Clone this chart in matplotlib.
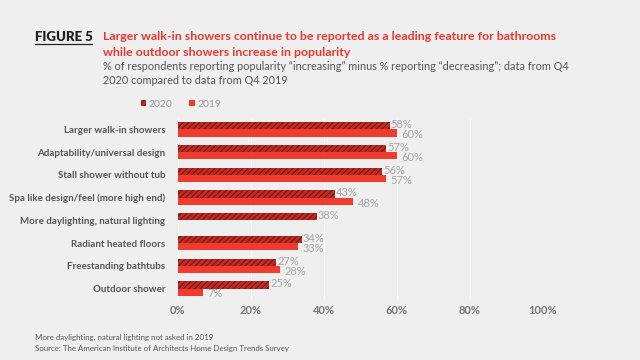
import matplotlib
matplotlib.use("Agg")
import matplotlib.pyplot as plt
import numpy as np

categories = ["Larger walk-in showers", "Adaptability/universal design", "Stall shower without tub",
              "Spa like design/feel (more high end)", "More daylighting, natural lighting",
              "Radiant heated floors", "Freestanding bathtubs", "Outdoor shower"]
v2020 = [58, 57, 56, 43, 38, 34, 27, 25]
v2019 = [60, 60, 57, 48, None, 33, 28, 7]
xticks = [0, 20, 40, 60, 80, 100]

bg = "#efefef"
plt.rcParams['hatch.linewidth'] = 0.7
plt.rcParams['font.family'] = ['Lato', 'DejaVu Sans']

fig = plt.figure(figsize=(6.4, 3.6), dpi=100, facecolor=bg)
ax = fig.add_axes([0.278, 0.167, 0.570, 0.505], facecolor=bg)

y = np.arange(len(categories))
h = 0.32
ax.barh(y - h/2, v2020, height=h, facecolor="#bf2b25", edgecolor="#6e1210",
        hatch="//////", linewidth=0, label="2020", zorder=2)
y19 = [yy for yy, v in zip(y, v2019) if v is not None]
v19 = [v for v in v2019 if v is not None]
ax.barh(np.array(y19) + h/2, v19, height=h, color="#f03c2e", linewidth=0, label="2019", zorder=2)

lc = "#a6a6a6"
for yy, v in zip(y, v2020):
    ax.text(v + 0.3, yy - h/2 - 0.05, f"{v}%", va="center", ha="left", fontsize=8, color=lc, zorder=3)
for yy, v in zip(y19, v19):
    ax.text(v + 1.2, yy + h/2 + 0.08, f"{v}%", va="center", ha="left", fontsize=8, color=lc, zorder=3)

ax.set_xlim(0, 100)
ax.set_ylim(len(categories) - 0.5, -0.5)
ax.set_yticks(y)
ax.set_yticklabels(categories, fontsize=7.0, fontweight="bold", color="#555555")
ax.set_xticks(xticks)
ax.set_xticklabels([f"{t}%" for t in xticks], fontsize=8, fontweight="bold", color="#777777")
ax.tick_params(axis="y", length=0, pad=9)
ax.tick_params(axis="x", length=0, pad=4)
for s in ax.spines.values():
    s.set_visible(False)
ax.grid(axis="x", color="#f8f8f8", linewidth=0.8, zorder=0)
ax.axhline(len(categories) - 0.5, color="#f8f8f8", linewidth=0.8, zorder=0)

leg = ax.legend(loc="lower left", bbox_to_anchor=(-0.128, 1.0), ncol=2, frameon=False,
                fontsize=7.5, handlelength=0.5, handleheight=0.5, handletextpad=0.3,
                columnspacing=1.6, labelcolor="#999999")

fig.text(35/640, 1 - 37/360, "FIGURE 5", fontsize=9.5, fontweight="heavy", color="#222222",
         va="center", ha="left")
fig.add_artist(plt.Line2D([35/640, 92/640], [1 - 44/360, 1 - 44/360], color="#222222", linewidth=0.9))
fig.text(103/640, 1 - 37/360, "Larger walk-in showers continue to be reported as a leading feature for bathrooms",
         fontsize=8.9, fontweight="bold", color="#e8392f", va="center", ha="left")
fig.text(103/640, 1 - 52/360, "while outdoor showers increase in popularity",
         fontsize=8.9, fontweight="bold", color="#e8392f", va="center", ha="left")
fig.text(103/640, 1 - 66/360, "% of respondents reporting popularity \u201cincreasing\u201d minus % reporting \u201cdecreasing\u201d; data from Q4",
         fontsize=7.8, color="#555555", va="center", ha="left")
fig.text(103/640, 1 - 80/360, "2020 compared to data from Q4 2019",
         fontsize=7.8, color="#555555", va="center", ha="left")

fig.text(35/640, 1 - 337/360, "More daylighting, natural lighting not asked in 2019",
         fontsize=5.7, color="#555555", va="center", ha="left")
fig.text(35/640, 1 - 349/360, "Source: The American Institute of Architects Home Design Trends Survey",
         fontsize=5.7, color="#555555", va="center", ha="left")

fig.savefig("out.png", dpi=100, facecolor=bg)
